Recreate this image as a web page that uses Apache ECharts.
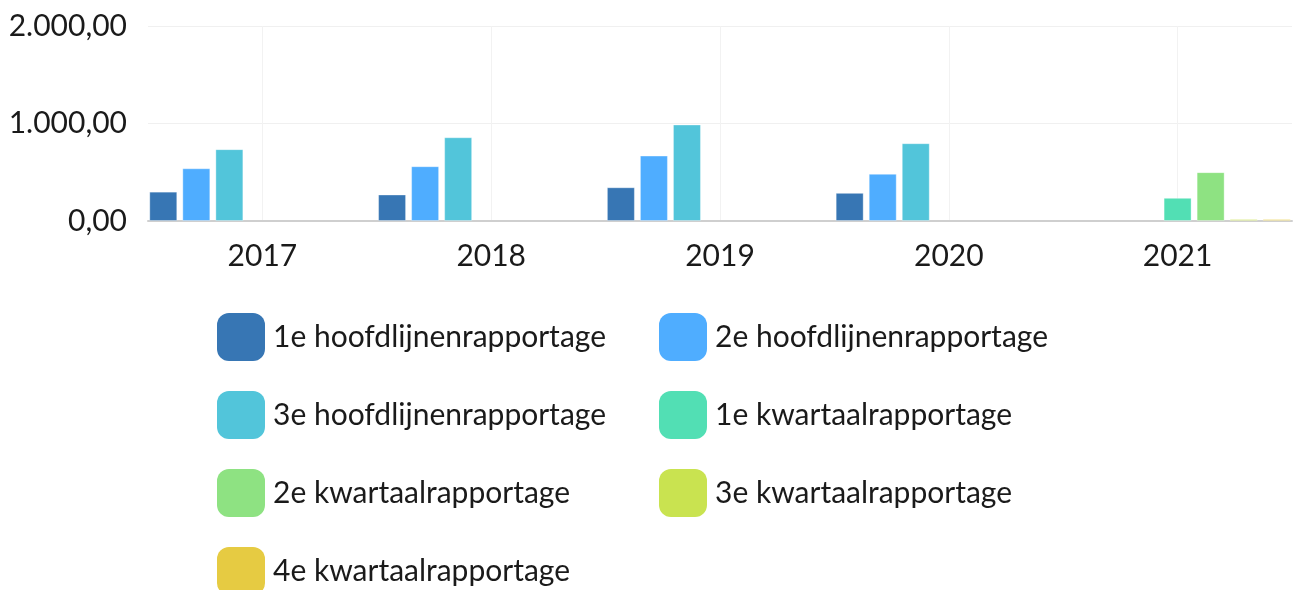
<!DOCTYPE html>
<html lang="nl">
<head>
	<meta charset="UTF-8">
	<title>Rapportages</title>
	<style type="text/css">
		html, body { margin: 0; padding: 0; background: #fff; }
		#main { width: 1296px; height: 590px; }
	</style>
	<script type="text/javascript" src="https://cdn.jsdelivr.net/npm/echarts@6/dist/echarts.min.js"></script>
</head>
<body>
	<div id="main"></div>

	<script type="text/javascript">
// jaren op de x-as
var years = ['2017', '2018', '2019', '2020', '2021'];

// waarden per rapportage (null = geen balk)
var hoofd1 = [301, 272, 346, 289, null];
var hoofd2 = [541, 562, 671, 484, null];
var hoofd3 = [737, 859, 990, 798, null];
var kwart1 = [null, null, null, null, 238];
var kwart2 = [null, null, null, null, 501];
var kwart3 = [null, null, null, null, 20];
var kwart4 = [null, null, null, null, 20];

var names = [
    '1e hoofdlijnenrapportage', '2e hoofdlijnenrapportage', '3e hoofdlijnenrapportage',
    '1e kwartaalrapportage', '2e kwartaalrapportage', '3e kwartaalrapportage', '4e kwartaalrapportage'
];
var values = [hoofd1, hoofd2, hoofd3, kwart1, kwart2, kwart3, kwart4];
var colors = ['#3776b4', '#4fadff', '#52c5da', '#52dfb4', '#8ee282', '#c9e350', '#e6cb42'];

// getal in Nederlandse notatie: 1.000,00
function nlFormat(v) {
    var parts = v.toFixed(2).split('.');
    parts[0] = parts[0].replace(/\B(?=(\d{3})+(?!\d))/g, '.');
    return parts.join(',');
}

var chart = echarts.init(document.getElementById('main'));

var series = names.map(function(name, i) {
    return {
        name: name,
        type: 'bar',
        barWidth: 28,
        barGap: '18%',
        itemStyle: {
            color: colors[i],
            borderColor: 'rgba(255,255,255,0.35)',
            borderWidth: 1
        },
        data: values[i]
    };
});

// legenda in twee kolommen: even en oneven items
function legendColumn(left, items) {
    return {
        left: left,
        top: 308,
        height: 330,
        orient: 'vertical',
        itemWidth: 48,
        itemHeight: 48,
        itemGap: 30,
        icon: 'roundRect',
        itemStyle: { borderWidth: 0 },
        textStyle: {
            color: '#1a1a1a',
            fontSize: 30,
            fontFamily: 'Lato',
            padding: [0, 0, 0, 3]
        },
        data: items
    };
}

chart.setOption({
    animation: false,
    color: colors,
    textStyle: { fontFamily: 'Lato' },
    grid: {
        left: 148,
        right: 4,
        top: 26,
        bottom: 369
    },
    xAxis: {
        type: 'category',
        data: years,
        axisLine: { lineStyle: { color: '#cfcfcf', width: 2 } },
        axisTick: { show: false, alignWithLabel: true },
        axisLabel: {
            color: '#1a1a1a',
            fontSize: 30,
            fontFamily: 'Lato',
            margin: 20
        },
        splitLine: {
            show: true,
            alignWithLabel: true,
            lineStyle: { color: '#f2f2f2', width: 1 }
        }
    },
    yAxis: {
        type: 'value',
        min: 0,
        max: 2000,
        interval: 1000,
        axisLine: { show: false },
        axisTick: { show: false },
        axisLabel: {
            color: '#1a1a1a',
            fontSize: 30,
            fontFamily: 'Lato',
            margin: 21,
            formatter: nlFormat
        },
        splitLine: { lineStyle: { color: '#f0f0f0', width: 1 } }
    },
    legend: [
        legendColumn(212, names.filter(function(n, i) { return i % 2 === 0; })),
        legendColumn(654, names.filter(function(n, i) { return i % 2 === 1; }))
    ],
    series: series
});
	</script>
</body>
</html>
